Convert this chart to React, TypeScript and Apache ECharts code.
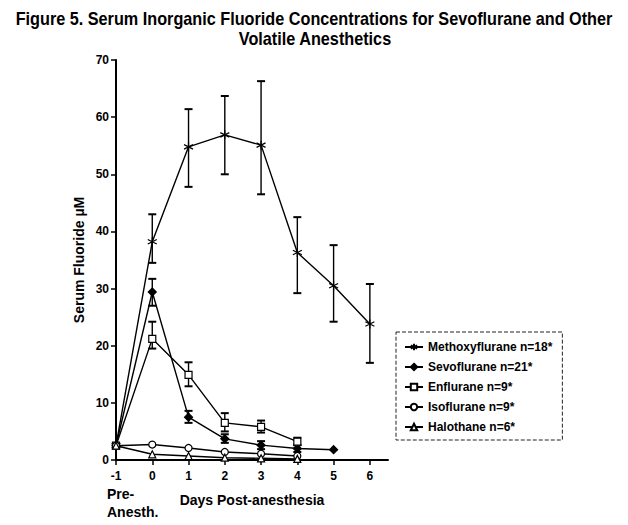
import React, { useEffect, useRef } from "react";
import * as echarts from "echarts";

const days = [-1, 0, 1, 2, 3, 4, 5, 6];
const xTicks = [-1, 0, 1, 2, 3, 4, 5, 6];

const methoxyflurane = [2.5, 38.2, 54.8, 56.9, 55.1, 36.3, 30.5, 23.8];
const methoxyLow = [null, 34.5, 47.8, 50.0, 46.5, 29.2, 24.2, 17.0];
const methoxyHigh = [null, 43.0, 61.4, 63.7, 66.3, 42.5, 37.6, 30.8];

const sevoflurane = [2.5, 29.4, 7.5, 3.7, 2.6, 2.0, 1.8];
const sevoLow = [null, 27.0, 6.5, 3.0, 1.9, 1.4, null];
const sevoHigh = [null, 31.7, 8.6, 4.5, 3.3, 2.6, null];

const enflurane = [2.5, 21.2, 14.9, 6.5, 5.8, 3.2];
const enfluLow = [null, 19.5, 12.9, 5.0, 4.8, 2.6];
const enfluHigh = [null, 24.2, 17.1, 8.2, 6.9, 3.9];

const isoflurane = [2.5, 2.7, 2.1, 1.4, 1.1, 0.7];
const halothane = [2.5, 1.0, 0.7, 0.4, 0.3, 0.2];

const names = [
  "Methoxyflurane n=18*",
  "Sevoflurane n=21*",
  "Enflurane n=9*",
  "Isoflurane n=9*",
  "Halothane n=6*",
];

const titleLine1 = "Figure 5. Serum Inorganic Fluoride Concentrations for Sevoflurane and Other";
const titleLine2 = "Volatile Anesthetics";

const FONT = "'Liberation Sans', Arial, Helvetica, sans-serif";

const asterisk = "path://M0,-5L0,5M-4.33,-2.5L4.33,2.5M-4.33,2.5L4.33,-2.5";

function pairs(vals: number[]) {
  return vals.map((v, i) => [days[i], v]);
}

function errData(low: (number | null)[], high: (number | null)[]) {
  const out: number[][] = [];
  low.forEach((l, i) => {
    const h = high[i];
    if (l != null && h != null) out.push([days[i], l, h]);
  });
  return out;
}

function errSeries(name: string, data: number[][]) {
  return {
    type: "custom",
    name,
    silent: true,
    z: 3,
    data,
    renderItem: (params: any, api: any) => {
      const x = api.value(0);
      const lo = api.coord([x, api.value(1)]);
      const hi = api.coord([x, api.value(2)]);
      const w = 4;
      const style = { stroke: "#000", lineWidth: 1.4 };
      return {
        type: "group",
        children: [
          { type: "line", shape: { x1: lo[0], y1: lo[1], x2: hi[0], y2: hi[1] }, style },
          { type: "line", shape: { x1: lo[0] - w, y1: lo[1], x2: lo[0] + w, y2: lo[1] }, style: { stroke: "#000", lineWidth: 2 } },
          { type: "line", shape: { x1: hi[0] - w, y1: hi[1], x2: hi[0] + w, y2: hi[1] }, style: { stroke: "#000", lineWidth: 2 } },
        ],
      };
    },
  };
}

function lineSeries(name: string, vals: number[], symbol: string, size: number, fill: string) {
  return {
    type: "line",
    name,
    data: pairs(vals),
    symbol,
    symbolSize: size,
    showAllSymbol: true,
    z: 4,
    lineStyle: { color: "#000", width: 1.4 },
    itemStyle: { color: fill, borderColor: "#000", borderWidth: 1.2 },
    emphasis: { disabled: true },
  };
}

function measure(text: string, font: string): number {
  const c = document.createElement("canvas").getContext("2d");
  if (!c) return text.length * 9;
  c.font = font;
  return c.measureText(text).width;
}

export default function App() {
  const ref = useRef<HTMLDivElement>(null);
  useEffect(() => {
    if (!ref.current) return;
    const chart = echarts.init(ref.current, null, { renderer: "svg" });
    const titleFont = "bold 18px 'Liberation Sans', Arial, sans-serif";
    const w1 = measure(titleLine1, titleFont);
    const s1 = 597 / w1;
    const titleStyle = {
      fontFamily: FONT,
      fontWeight: "bold",
      fontSize: 18,
      fill: "#000",
      align: "center",
      verticalAlign: "middle",
    };
    chart.setOption({
      animation: false,
      backgroundColor: "#fff",
      legend: {
        data: names,
        orient: "vertical",
        left: 396,
        top: 332,
        itemWidth: 18,
        itemHeight: 8,
        itemGap: 8,
        padding: [9, 10, 7, 8],
        borderColor: "#222",
        borderWidth: 1,
        borderType: "dashed",
        textStyle: { fontFamily: FONT, fontWeight: "bold", fontSize: 12, color: "#000" },
      },
      grid: { left: 116, top: 60, width: 272, height: 400, outerBoundsMode: "none" },
      xAxis: {
        type: "value",
        min: -1,
        max: 6.5,
        interval: 1,
        name: "Days Post-anesthesia",
        nameLocation: "middle",
        nameGap: 33,
        nameTextStyle: { fontFamily: FONT, fontWeight: "bold", fontSize: 14, color: "#000" },
        splitLine: { show: false },
        axisLine: { onZero: false, lineStyle: { color: "#000", width: 2 } },
        axisTick: { show: true, length: 5, customValues: xTicks, lineStyle: { color: "#000", width: 1.5 } },
        axisLabel: {
          customValues: xTicks,
          margin: 10,
          fontFamily: FONT,
          fontWeight: "bold",
          fontSize: 12,
          color: "#000",
        },
      },
      yAxis: {
        type: "value",
        min: 0,
        max: 70,
        interval: 10,
        name: "Serum Fluoride µM",
        nameLocation: "middle",
        nameGap: 30,
        nameRotate: 90,
        nameTextStyle: { fontFamily: FONT, fontWeight: "bold", fontSize: 14, color: "#000" },
        splitLine: { show: false },
        axisLine: { show: true, onZero: false, lineStyle: { color: "#000", width: 2 } },
        axisTick: { show: true, length: 5, lineStyle: { color: "#000", width: 1.5 } },
        axisLabel: { margin: 7, fontFamily: FONT, fontWeight: "bold", fontSize: 12, color: "#000" },
      },
      graphic: [
        {
          type: "text",
          x: 314,
          y: 19,
          scaleX: s1,
          style: { ...titleStyle, text: titleLine1 },
        },
        {
          type: "text",
          x: 315,
          y: 39,
          scaleX: s1,
          style: { ...titleStyle, text: titleLine2 },
        },
        {
          type: "text",
          left: 107,
          top: 485,
          style: {
            text: "Pre-\nAnesth.",
            fontFamily: FONT,
            fontWeight: "bold",
            fontSize: 14,
            lineHeight: 18,
            fill: "#000",
          },
        },
      ],
      series: [
        errSeries("err-m", errData(methoxyLow, methoxyHigh)),
        errSeries("err-s", errData(sevoLow, sevoHigh)),
        errSeries("err-e", errData(enfluLow, enfluHigh)),
        lineSeries(names[0], methoxyflurane, asterisk, 9, "none"),
        lineSeries(names[1], sevoflurane, "diamond", 8, "#000"),
        lineSeries(names[2], enflurane, "rect", 7, "#fff"),
        lineSeries(names[3], isoflurane, "circle", 7, "#fff"),
        lineSeries(names[4], halothane, "triangle", 7, "#fff"),
      ],
    });
    return () => chart.dispose();
  }, []);
  return <div ref={ref} style={{ position: "fixed", left: 0, top: 0, width: 628, height: 525 }} />;
}
